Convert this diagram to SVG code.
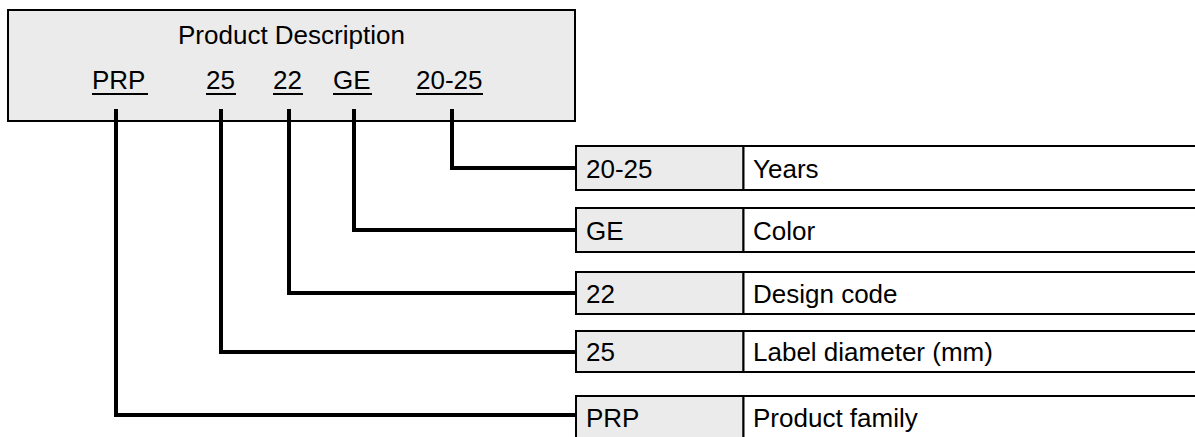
<svg xmlns="http://www.w3.org/2000/svg" width="1195" height="437" viewBox="0 0 1195 437">
<style>
text{font-family:"Liberation Sans",Arial,sans-serif;font-size:26px;fill:#000}
.box{fill:#ebebeb;stroke:#000;stroke-width:2}
.val{fill:#ffffff;stroke:#000;stroke-width:2}
.ul{stroke:#000;stroke-width:2}
.con{fill:none;stroke:#000;stroke-width:4;stroke-linejoin:miter}
</style>
<rect width="1195" height="437" fill="#fff"/>
<g id="product-description">
<rect class="box" x="8" y="10" width="567" height="111"/>
<text x="178" y="44">Product Description</text>
<text x="92" y="89">PRP</text>
<line class="ul" x1="92" y1="94" x2="148" y2="94"/>
<text x="206" y="89">25</text>
<line class="ul" x1="206" y1="94" x2="236" y2="94"/>
<text x="273" y="89">22</text>
<line class="ul" x1="273" y1="94" x2="303" y2="94"/>
<text x="333" y="89">GE</text>
<line class="ul" x1="333" y1="94" x2="372" y2="94"/>
<text x="416" y="89">20-25</text>
<line class="ul" x1="416" y1="94" x2="483" y2="94"/>
</g>
<g id="connectors">
<path class="con" d="M452 109 V168 H576"/>
<path class="con" d="M354 109 V230 H576"/>
<path class="con" d="M289 109 V293 H576"/>
<path class="con" d="M221 109 V352 H576"/>
<path class="con" d="M116 109 V415 H576"/>
</g>
<g id="row-years">
<rect class="box" x="576" y="146" width="167.5" height="44"/>
<rect class="val" x="743.5" y="146" width="460" height="44"/>
<text x="586" y="177.5">20-25</text>
<text x="753" y="177.5">Years</text>
</g>
<g id="row-color">
<rect class="box" x="576" y="208" width="167.5" height="44"/>
<rect class="val" x="743.5" y="208" width="460" height="44"/>
<text x="586" y="239.5">GE</text>
<text x="753" y="239.5">Color</text>
</g>
<g id="row-design">
<rect class="box" x="576" y="272" width="167.5" height="42"/>
<rect class="val" x="743.5" y="272" width="460" height="42"/>
<text x="586" y="302.5">22</text>
<text x="753" y="302.5">Design code</text>
</g>
<g id="row-diameter">
<rect class="box" x="576" y="331" width="167.5" height="41"/>
<rect class="val" x="743.5" y="331" width="460" height="41"/>
<text x="586" y="361">25</text>
<text x="753" y="361">Label diameter (mm)</text>
</g>
<g id="row-family">
<rect class="box" x="576" y="396" width="167.5" height="44"/>
<rect class="val" x="743.5" y="396" width="460" height="44"/>
<text x="586" y="427">PRP</text>
<text x="753" y="427">Product family</text>
</g>
</svg>
